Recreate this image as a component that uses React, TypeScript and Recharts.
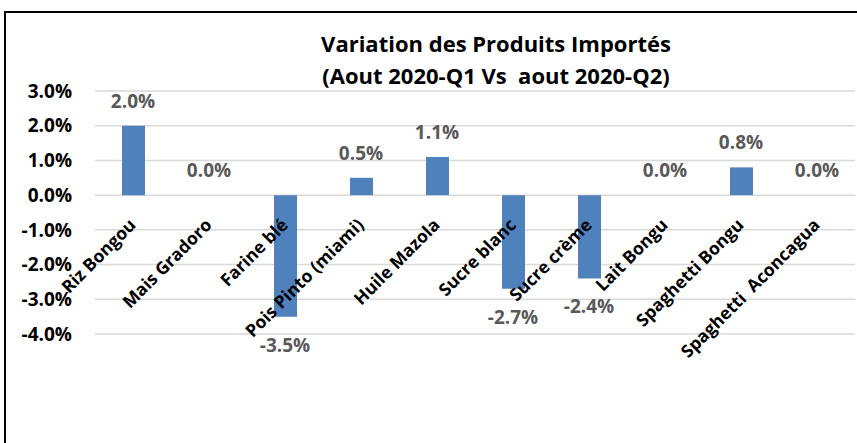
import React from "react";
import { BarChart, Bar, XAxis, YAxis, CartesianGrid, ReferenceDot } from "recharts";

const categories = [
  "Riz Bongou",
  "Mais Gradoro",
  "Farine blé",
  "Pois Pinto (miami)",
  "Huile Mazola",
  "Sucre blanc",
  "Sucre crème",
  "Lait Bongu",
  "Spaghetti Bongu",
  "Spaghetti  Aconcagua",
];
const variation = [0.02, 0.0, -0.035, 0.005, 0.011, -0.027, -0.024, 0.0, 0.008, 0.0];
const yTicks = [-0.04, -0.03, -0.02, -0.01, 0, 0.01, 0.02, 0.03];
const titleLines = ["Variation des Produits Importés", "(Aout 2020-Q1 Vs  aout 2020-Q2)"];

const data = categories.map((name, i) => ({ name, value: variation[i] }));

const FONT = "'Open Sans', Lato, sans-serif";
const pct = (v: number) => `${(v * 100).toFixed(1)}%`;

const makeValueLabel = (v: number) => (props: any) => {
  const cx = Number(props.cx);
  const cy = Number(props.cy);
  const ty = v >= 0 ? cy - 18 : cy + 35;
  return (
    <text x={cx} y={ty} textAnchor="middle" fill="#595959" fontFamily={FONT} fontWeight={700} fontSize={19}>
      {pct(v)}
    </text>
  );
};

const makeCategoryLabel = (name: string) => (props: any) => {
  const ax = Number(props.cx) + 4;
  const ay = Number(props.cy) + 31;
  return (
    <text
      x={ax}
      y={ay}
      textAnchor="end"
      fill="#000000"
      fontFamily={FONT}
      fontWeight={700}
      fontSize={17.5}
      transform={`rotate(-45, ${ax}, ${ay})`}
      style={{ whiteSpace: "pre" }}
    >
      {name}
    </text>
  );
};

export default function App() {
  return (
    <div style={{ position: "absolute", left: 0, top: 0, width: 857, height: 443, background: "#fff", overflow: "hidden" }}>
      <div
        style={{
          position: "absolute",
          left: 4,
          top: 11,
          width: 900,
          height: 500,
          borderTop: "2px solid #000",
          borderLeft: "2px solid #000",
        }}
      />
      <BarChart
        width={857}
        height={443}
        data={data}
        margin={{ top: 91, right: 2, bottom: 109, left: 5 }}
        style={{ position: "absolute", left: 0, top: 0 }}
      >
        <CartesianGrid vertical={false} stroke="#D9D9D9" strokeWidth={1.5} />
        <XAxis dataKey="name" hide />
        <YAxis
          width={90}
          domain={[-0.04, 0.03]}
          ticks={yTicks}
          tickFormatter={pct}
          axisLine={false}
          tickLine={false}
          tickSize={0}
          tickMargin={23}
          interval={0}
          tick={{ fill: "#000", fontFamily: FONT, fontWeight: 700, fontSize: 19 }}
        />
        <Bar dataKey="value" fill="#4F81BD" barSize={23} isAnimationActive={false} />
        {data.map((d) => (
          <ReferenceDot
            key={`c-${d.name}`}
            x={d.name}
            y={0}
            r={0}
            ifOverflow="visible"
            shape={makeCategoryLabel(d.name)}
          />
        ))}
        {data.map((d) => (
          <ReferenceDot
            key={`v-${d.name}`}
            x={d.name}
            y={d.value}
            r={0}
            ifOverflow="visible"
            shape={makeValueLabel(d.value)}
          />
        ))}
      </BarChart>
      {titleLines.map((t, i) => (
        <div
          key={i}
          style={{
            position: "absolute",
            left: 0,
            width: 992,
            top: 30 + i * 32,
            textAlign: "center",
            fontFamily: FONT,
            fontWeight: 700,
            fontSize: 22,
            lineHeight: "26px",
            color: "#000",
            whiteSpace: "pre",
          }}
        >
          {t}
        </div>
      ))}
    </div>
  );
}
